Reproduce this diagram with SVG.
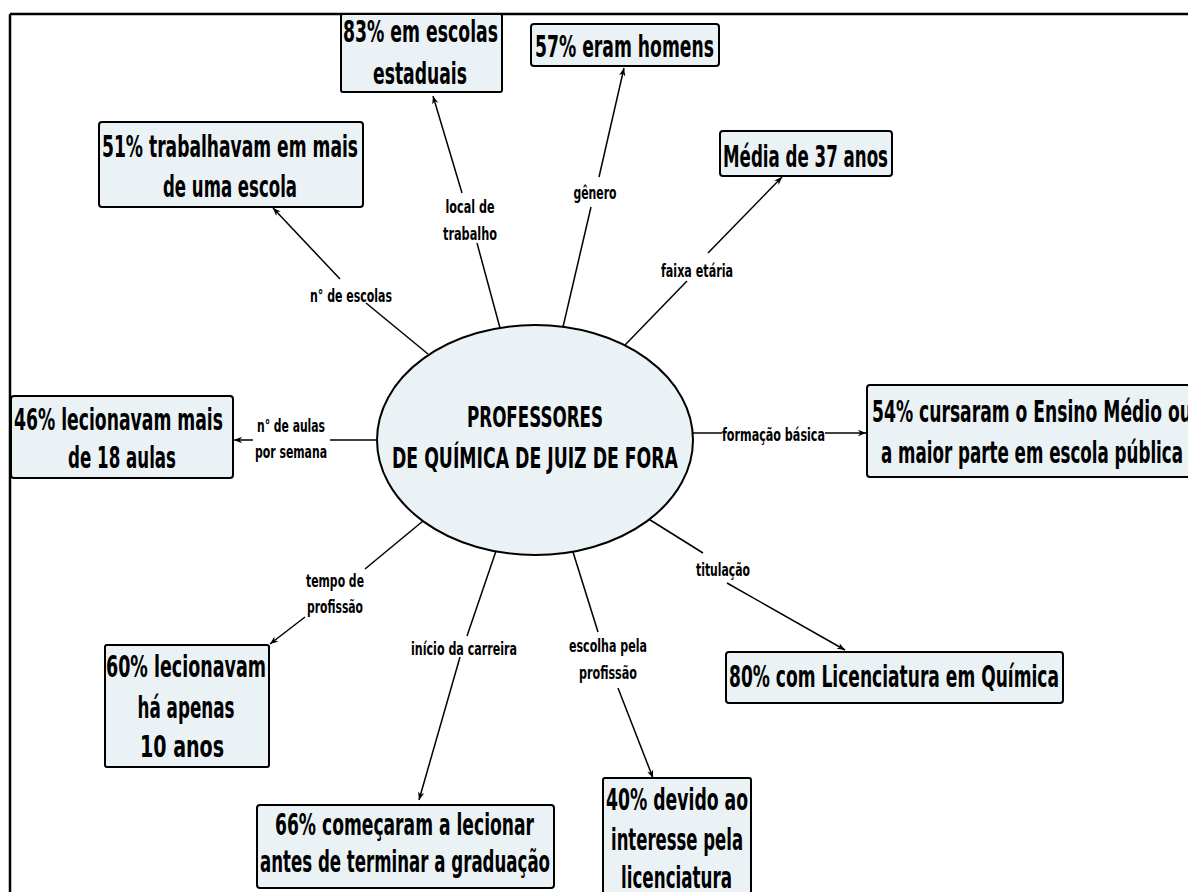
<svg xmlns="http://www.w3.org/2000/svg" width="1188" height="892" viewBox="0 0 1188 892">
<style>
.box{fill:#ebf2f5;stroke:#000;stroke-width:2}
.bt{font-family:"DejaVu Sans Condensed","DejaVu Sans",sans-serif;font-weight:bold;font-size:30px;fill:#000;text-anchor:middle}
.ct{font-family:"DejaVu Sans Condensed","DejaVu Sans",sans-serif;font-weight:bold;font-size:28px;fill:#000;text-anchor:middle}
.lt{font-family:"DejaVu Sans Condensed","DejaVu Sans",sans-serif;font-weight:bold;font-size:18px;fill:#000;text-anchor:middle}
.ln{stroke:#000;stroke-width:1.5;fill:none}
.ar{stroke:#000;stroke-width:1.5;fill:none;marker-end:url(#ah)}
</style>
<defs>
<marker id="ah" viewBox="0 0 10 10" refX="10" refY="5" markerWidth="8" markerHeight="8" markerUnits="userSpaceOnUse" orient="auto">
<path d="M0,1 L10,5 L0,9 L3,5 Z" fill="#000"/>
</marker>
</defs>
<rect width="1188" height="892" fill="#fff"/>
<g id="frame">
<line x1="10" y1="14" x2="1188" y2="14" stroke="#000" stroke-width="2.5"/>
<line x1="10" y1="14" x2="10" y2="892" stroke="#000" stroke-width="2.5"/>
</g>
<g id="connectors">
<line class="ln" x1="428" y1="354" x2="366" y2="303"/>
<line class="ar" x1="340" y1="279" x2="273" y2="208"/>
<text class="lt" x="351" y="302" textLength="82" lengthAdjust="spacingAndGlyphs">n° de escolas</text>
<line class="ln" x1="500" y1="328" x2="477" y2="243"/>
<line class="ar" x1="462" y1="193" x2="433" y2="96"/>
<text class="lt" x="470" y="213" textLength="49" lengthAdjust="spacingAndGlyphs">local de</text>
<text class="lt" x="470" y="240" textLength="54" lengthAdjust="spacingAndGlyphs">trabalho</text>
<line class="ln" x1="563" y1="327" x2="591" y2="207"/>
<line class="ar" x1="599" y1="177" x2="624" y2="68"/>
<text class="lt" x="595" y="199" textLength="43" lengthAdjust="spacingAndGlyphs">gênero</text>
<line class="ln" x1="625" y1="345" x2="687" y2="281"/>
<line class="ar" x1="708" y1="253" x2="782" y2="177"/>
<text class="lt" x="697" y="277" textLength="72" lengthAdjust="spacingAndGlyphs">faixa etária</text>
<line class="ln" x1="378" y1="440" x2="330" y2="440"/>
<line class="ar" x1="253" y1="440" x2="234" y2="440"/>
<text class="lt" x="291" y="432" textLength="68" lengthAdjust="spacingAndGlyphs">n° de aulas</text>
<text class="lt" x="291" y="458" textLength="72" lengthAdjust="spacingAndGlyphs">por semana</text>
<line class="ln" x1="692" y1="433" x2="722" y2="433"/>
<line class="ar" x1="825" y1="433" x2="866" y2="433"/>
<text class="lt" x="773.5" y="441" textLength="103" lengthAdjust="spacingAndGlyphs">formação básica</text>
<line class="ln" x1="423" y1="521" x2="365" y2="569"/>
<line class="ar" x1="305" y1="617" x2="270" y2="644"/>
<text class="lt" x="335" y="587" textLength="58" lengthAdjust="spacingAndGlyphs">tempo de</text>
<text class="lt" x="335" y="613" textLength="56" lengthAdjust="spacingAndGlyphs">profissão</text>
<line class="ln" x1="496" y1="551" x2="467" y2="636"/>
<line class="ar" x1="460" y1="657" x2="419" y2="800"/>
<text class="lt" x="464" y="655" textLength="106" lengthAdjust="spacingAndGlyphs">início da carreira</text>
<line class="ln" x1="573" y1="552" x2="598" y2="632"/>
<line class="ar" x1="618" y1="688" x2="653" y2="778"/>
<text class="lt" x="608" y="652" textLength="78" lengthAdjust="spacingAndGlyphs">escolha pela</text>
<text class="lt" x="608" y="679" textLength="58" lengthAdjust="spacingAndGlyphs">profissão</text>
<line class="ln" x1="647" y1="518" x2="703" y2="553"/>
<line class="ar" x1="727" y1="583" x2="845" y2="650"/>
<text class="lt" x="723" y="576" textLength="54" lengthAdjust="spacingAndGlyphs">titulação</text>
</g>
<g id="center">
<ellipse cx="535" cy="440" rx="158" ry="115" fill="#ebf2f5" stroke="#000" stroke-width="2"/>
<text class="ct" x="535" y="427" textLength="136" lengthAdjust="spacingAndGlyphs">PROFESSORES</text>
<text class="ct" x="535" y="468" textLength="286" lengthAdjust="spacingAndGlyphs">DE QUÍMICA DE JUIZ DE FORA</text>
</g>
<g id="n83">
<rect class="box" x="341" y="14" width="161" height="78" rx="2"/>
<text class="bt" x="420.5" y="42" textLength="155" lengthAdjust="spacingAndGlyphs">83% em escolas</text>
<text class="bt" x="420" y="84" textLength="94" lengthAdjust="spacingAndGlyphs">estaduais</text>
</g>
<g id="n57">
<rect class="box" x="531" y="24" width="188" height="42" rx="3"/>
<text class="bt" x="624.5" y="57" textLength="179" lengthAdjust="spacingAndGlyphs">57% eram homens</text>
</g>
<g id="n51">
<rect class="box" x="99" y="122" width="264" height="85" rx="3"/>
<text class="bt" x="230" y="157" textLength="256" lengthAdjust="spacingAndGlyphs">51% trabalhavam em mais</text>
<text class="bt" x="230" y="197" textLength="134" lengthAdjust="spacingAndGlyphs">de uma escola</text>
</g>
<g id="nmedia">
<rect class="box" x="720" y="131" width="172" height="45" rx="3"/>
<text class="bt" x="805.5" y="167" textLength="165" lengthAdjust="spacingAndGlyphs">Média de 37 anos</text>
</g>
<g id="n46">
<rect class="box" x="11" y="396" width="222" height="82" rx="3"/>
<text class="bt" x="118.5" y="430" textLength="209" lengthAdjust="spacingAndGlyphs">46% lecionavam mais</text>
<text class="bt" x="122" y="468" textLength="108" lengthAdjust="spacingAndGlyphs">de 18 aulas</text>
</g>
<g id="n54">
<rect class="box" x="867" y="385" width="332" height="92" rx="3"/>
<text class="bt" x="1032" y="422" textLength="320" lengthAdjust="spacingAndGlyphs">54% cursaram o Ensino Médio ou</text>
<text class="bt" x="1032" y="463" textLength="302" lengthAdjust="spacingAndGlyphs">a maior parte em escola pública</text>
</g>
<g id="n60">
<rect class="box" x="105" y="645" width="164" height="122" rx="2"/>
<text class="bt" x="186" y="677" textLength="160" lengthAdjust="spacingAndGlyphs">60% lecionavam</text>
<text class="bt" x="186" y="718" textLength="97" lengthAdjust="spacingAndGlyphs">há apenas</text>
<text class="bt" x="182" y="757" textLength="84" lengthAdjust="spacingAndGlyphs">10 anos</text>
</g>
<g id="n66">
<rect class="box" x="257" y="805" width="297" height="83" rx="3"/>
<text class="bt" x="404.5" y="835" textLength="259" lengthAdjust="spacingAndGlyphs">66% começaram a lecionar</text>
<text class="bt" x="405" y="872" textLength="290" lengthAdjust="spacingAndGlyphs">antes de terminar a graduação</text>
</g>
<g id="n40">
<rect class="box" x="603" y="778" width="148" height="122" rx="2"/>
<text class="bt" x="677" y="810" textLength="142" lengthAdjust="spacingAndGlyphs">40% devido ao</text>
<text class="bt" x="677" y="850" textLength="132" lengthAdjust="spacingAndGlyphs">interesse pela</text>
<text class="bt" x="676.5" y="888" textLength="111" lengthAdjust="spacingAndGlyphs">licenciatura</text>
</g>
<g id="n80">
<rect class="box" x="726" y="652" width="337" height="51" rx="3"/>
<text class="bt" x="894" y="687" textLength="330" lengthAdjust="spacingAndGlyphs">80% com Licenciatura em Química</text>
</g>
</svg>
